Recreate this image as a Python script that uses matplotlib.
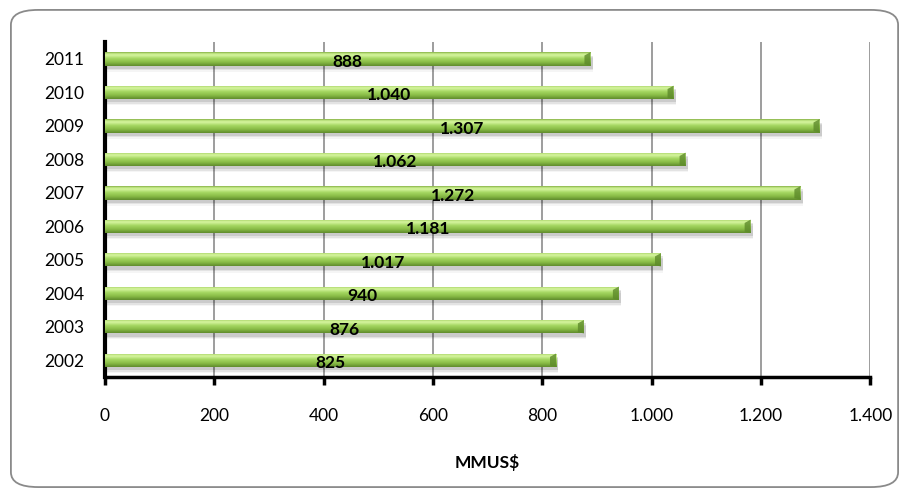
import numpy as np
import matplotlib.pyplot as plt
from matplotlib.patches import FancyBboxPatch, Polygon
from matplotlib.colors import LinearSegmentedColormap

plt.rcParams['font.family'] = ['Lato', 'DejaVu Sans']

years = ['2002', '2003', '2004', '2005', '2006', '2007', '2008', '2009', '2010', '2011']
values = [825, 876, 940, 1017, 1181, 1272, 1062, 1307, 1040, 888]
xticks = [0, 200, 400, 600, 800, 1000, 1200, 1400]


def fmt(v):
    return f"{v:,}".replace(",", ".")


fig = plt.figure(figsize=(9.09, 4.96), dpi=100)
ax = fig.add_axes([0.1155, 0.240, 0.842, 0.675])

# rounded outer frame
frame = FancyBboxPatch((0.012, 0.018), 0.976, 0.962, boxstyle="round,pad=0,rounding_size=0.03",
                       transform=fig.transFigure, fc='white', ec='#8a8a8a', lw=1.3, zorder=-10)
fig.patches.append(frame)

green = LinearSegmentedColormap.from_list('g', [
    (0.0, '#5f8a2c'), (0.25, '#86b944'), (0.55, '#a6d862'),
    (0.78, '#d6f5a0'), (0.9, '#c4ea86'), (1.0, '#7ea83f')])

h = 0.40
ypos = np.arange(len(years))
bars = ax.barh(ypos, values, height=h, color='#9ccf5a', edgecolor='none', zorder=3)
grad = np.linspace(0, 1, 64).reshape(-1, 1)
for y, v, b in zip(ypos, values, bars):
    # soft shadow under each bar
    for k, a in enumerate([0.10, 0.07, 0.04]):
        ax.barh(y - 0.10 - 0.04 * k, v + 4, height=h, left=0, color='black',
                alpha=a, edgecolor='none', zorder=2)
    im = ax.imshow(grad, extent=[0, v, y - h / 2, y + h / 2], aspect='auto',
                   cmap=green, origin='lower', zorder=4, interpolation='bicubic')
    im.set_clip_path(b)
    # bevelled end cap
    cap = 11
    ax.add_patch(Polygon([[v - cap, y + h / 2 - 0.1], [v, y + h / 2], [v, y - h / 2],
                          [v - cap, y - h / 2 + 0.04]], closed=True,
                         fc='#5d8a2a', ec='none', alpha=0.8, zorder=5))
    ax.text(v / 2, y - 0.09, fmt(v), ha='center', va='center', fontsize=12.5,
            fontweight='bold', color='black', zorder=6)

ax.set_xlim(0, 1400)
ax.set_ylim(-0.5, len(years) - 0.5)
ax.set_xticks(xticks)
ax.set_xticklabels([fmt(t) for t in xticks], fontsize=12.5)
ax.set_yticks(ypos)
ax.set_yticklabels(years, fontsize=12.5)
ax.tick_params(axis='y', length=0, pad=15)
ax.tick_params(axis='x', direction='out', length=6, width=2.5, color='black', pad=16)
ax.grid(axis='x', color='#8c8c8c', lw=1.2, zorder=0)
ax.set_axisbelow(True)
for s in ['top', 'right']:
    ax.spines[s].set_visible(False)
ax.spines['left'].set_linewidth(3)
ax.spines['bottom'].set_linewidth(2.5)
ax.set_xlabel('MMUS$', fontsize=12.5, fontweight='bold', labelpad=22)

fig.savefig('out.png', dpi=100)
